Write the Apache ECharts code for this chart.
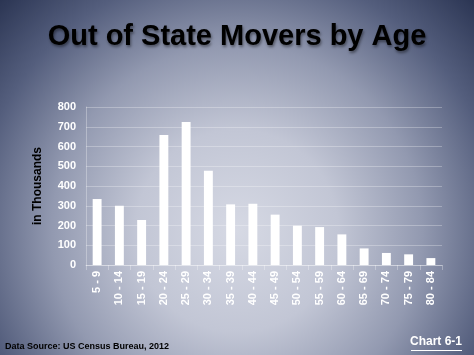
<!DOCTYPE html>
<html><head><meta charset="utf-8">
<script src="https://cdn.jsdelivr.net/npm/echarts@6/dist/echarts.min.js"></script>
<style>html,body{margin:0;padding:0;}#c{width:474px;height:355px;}</style>
</head><body><div id="c"></div>
<script>
const categories = ['5 - 9','10 - 14','15 - 19','20 - 24','25 - 29','30 - 34','35 - 39','40 - 44','45 - 49','50 - 54','55 - 59','60 - 64','65 - 69','70 - 74','75 - 79','80 - 84'];
const movers = [334, 300, 228, 658, 724, 477, 307, 310, 255, 199, 192, 155, 84, 61, 54, 35];
const yTicks = [0, 100, 200, 300, 400, 500, 600, 700, 800];

const chart = echarts.init(document.getElementById('c'));
chart.setOption({
  animation: false,
  graphic: [{
    type: 'rect', z: -10, silent: true,
    shape: {x: 0, y: 0, width: 474, height: 355},
    style: {fill: {type: 'radial', x: 0.5, y: 0.65, r: 0.95, colorStops: [
      {offset: 0, color: '#d6d9e4'},
      {offset: 0.3, color: '#c2c6d5'},
      {offset: 0.55, color: '#9299b0'},
      {offset: 0.78, color: '#545e7d'},
      {offset: 1, color: '#27314f'}
    ]}}
  }, {
    type: 'text', left: 5, top: 342, silent: true,
    style: {text: 'Data Source: US Census Bureau, 2012', fill: '#000', font: 'bold 9px Liberation Sans, Arial, sans-serif'}
  }, {
    type: 'text', right: 12, top: 336, silent: true,
    style: {text: 'Chart 6-1', fill: '#fff', font: 'bold 12px Liberation Sans, Arial, sans-serif'}
  }, {
    type: 'rect', right: 12, top: 350, silent: true,
    shape: {width: 51, height: 1}, style: {fill: '#fff'}
  }],
  title: {
    text: 'Out of State Movers by Age', left: 'center', top: 17,
    textStyle: {fontFamily: 'Liberation Sans, Arial, sans-serif', fontWeight: 'bold', fontSize: 29, color: '#000',
      textShadowColor: 'rgba(0,0,0,0.45)', textShadowBlur: 3, textShadowOffsetX: 1, textShadowOffsetY: 2}
  },
  grid: {left: 86, right: 32, top: 107, bottom: 90, containLabel: false},
  xAxis: {
    type: 'category', data: categories,
    axisLine: {lineStyle: {color: 'rgba(255,255,255,0.3)'}},
    axisTick: {show: true, alignWithLabel: false, lineStyle: {color: 'rgba(255,255,255,0.3)'}},
    axisLabel: {rotate: 90, color: '#fff', fontWeight: 'bold', fontSize: 11, interval: 0, margin: 6,
      fontFamily: 'Liberation Sans, Arial, sans-serif'}
  },
  yAxis: {
    type: 'value', min: 0, max: 800, interval: 100,
    name: 'in Thousands', nameLocation: 'middle', nameGap: 42, nameRotate: 90,
    nameTextStyle: {color: '#000', fontWeight: 'bold', fontSize: 12, fontFamily: 'Liberation Sans, Arial, sans-serif'},
    axisLine: {show: true, lineStyle: {color: 'rgba(255,255,255,0.3)'}},
    axisTick: {show: false},
    axisLabel: {color: '#fff', fontWeight: 'bold', fontSize: 11, margin: 10,
      fontFamily: 'Liberation Sans, Arial, sans-serif',
      formatter: v => yTicks.includes(v) ? String(v) : ''},
    splitLine: {lineStyle: {color: 'rgba(255,255,255,0.28)', width: 1}}
  },
  series: [{
    type: 'bar', data: movers, barWidth: '40%',
    itemStyle: {color: '#ffffff'}
  }]
});
</script></body></html>
